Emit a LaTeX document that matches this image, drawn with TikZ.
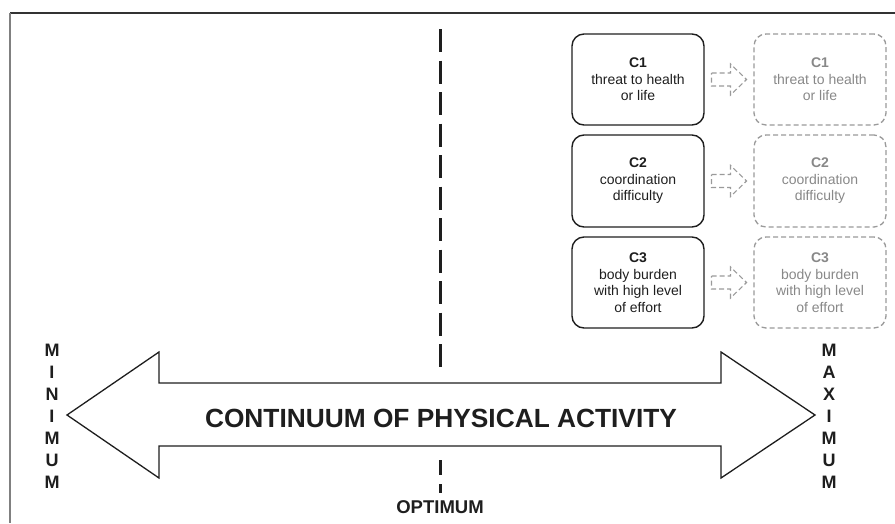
\documentclass[tikz,border=0pt]{standalone}
\usepackage{fontspec}
\setmainfont{Liberation Sans}
\usetikzlibrary{calc}
\definecolor{ink}{HTML}{1E1E1E}
\definecolor{faint}{HTML}{9A9A9A}
\definecolor{fainttext}{HTML}{888888}
\begin{document}
\begin{tikzpicture}[x=1pt,y=-1pt,
  solidbox/.style={draw=ink,line width=1.4pt,rounded corners=12pt,minimum width=132pt,minimum height=91pt,align=center,text=ink,font=\fontsize{14}{16.5}\selectfont,inner sep=0pt},
  ghostbox/.style={draw=faint,line width=1.3pt,dash pattern=on 5pt off 3pt,rounded corners=12pt,minimum width=132pt,minimum height=91pt,align=center,text=fainttext,font=\fontsize{14}{16.5}\selectfont,inner sep=0pt},
  hollow/.style={draw=faint,line width=1.1pt,dash pattern=on 5pt off 3pt},
  bigarrow/.style={draw=ink,line width=1.3pt,line join=miter},
  vword/.style={align=center,text=ink,font=\bfseries\fontsize{18}{22}\selectfont,inner sep=0pt},
  harrow/.pic={\draw[hollow] (-17.5,-6.5) -- (1.5,-6.5) -- (1.5,-15.5) -- (17.5,0) -- (1.5,15.5) -- (1.5,6.5) -- (-17.5,6.5) -- cycle;}
]
\useasboundingbox (0,0) rectangle (895,523);
% frame
\draw[color=black!80,line width=1.2pt] (10,13) -- (895,13);
\draw[color=black!50,line width=1.5pt] (10,13) -- (10,523);

% optimum dashed line
\coordinate (vt) at (440,29);
\coordinate (vb) at (440,367);
\draw[ink,line width=3pt,dash pattern=on 23pt off 8.5pt] (vt) -- (vb);
\coordinate (vl1) at (440,460);
\coordinate (vl2) at (440,475);
\coordinate (vl3) at (440,484);
\coordinate (vl4) at (440,493);
\draw[ink,line width=3pt] (vl1) -- (vl2);
\draw[ink,line width=3pt] (vl3) -- (vl4);

% big double arrow
\draw[bigarrow,fill=white] (67,415) -- (159,352) -- (159,383) -- (721,383) -- (721,352) -- (815,415) -- (721,478) -- (721,446) -- (159,446) -- (159,478) -- cycle;
\node[text=ink,font=\bfseries\fontsize{26.3}{28}\selectfont,inner sep=0pt] (cont) at (441,418) {CONTINUUM OF PHYSICAL ACTIVITY};

\node[text=ink,font=\bfseries\fontsize{18.5}{20}\selectfont,inner sep=0pt] (opt) at (440,507) {OPTIMUM};

\node[vword] (min) at (52,416.5) {M\\I\\N\\I\\M\\U\\M};
\node[vword] (max) at (829,416.5) {M\\A\\X\\I\\M\\U\\M};

% boxes
\node[solidbox] (c1) at (638,79.5) {\textbf{C1}\\threat to health\\or life};
\node[solidbox,minimum height=92pt] (c2) at (638,181) {\textbf{C2}\\coordination\\difficulty};
\node[solidbox] (c3) at (638,282.5) {\textbf{C3}\\body burden\\with high level\\of effort};

\node[ghostbox] (d1) at (820,79.5) {\textbf{C1}\\threat to health\\or life};
\node[ghostbox,minimum height=92pt] (d2) at (820,181) {\textbf{C2}\\coordination\\difficulty};
\node[ghostbox] (d3) at (820,282.5) {\textbf{C3}\\body burden\\with high level\\of effort};

\coordinate (m1) at ($(c1.east)!0.5!(d1.west)$);
\coordinate (m2) at ($(c2.east)!0.5!(d2.west)$);
\coordinate (m3) at ($(c3.east)!0.5!(d3.west)$);
\pic at (m1) {harrow};
\pic at (m2) {harrow};
\pic at (m3) {harrow};
\end{tikzpicture}
\end{document}
